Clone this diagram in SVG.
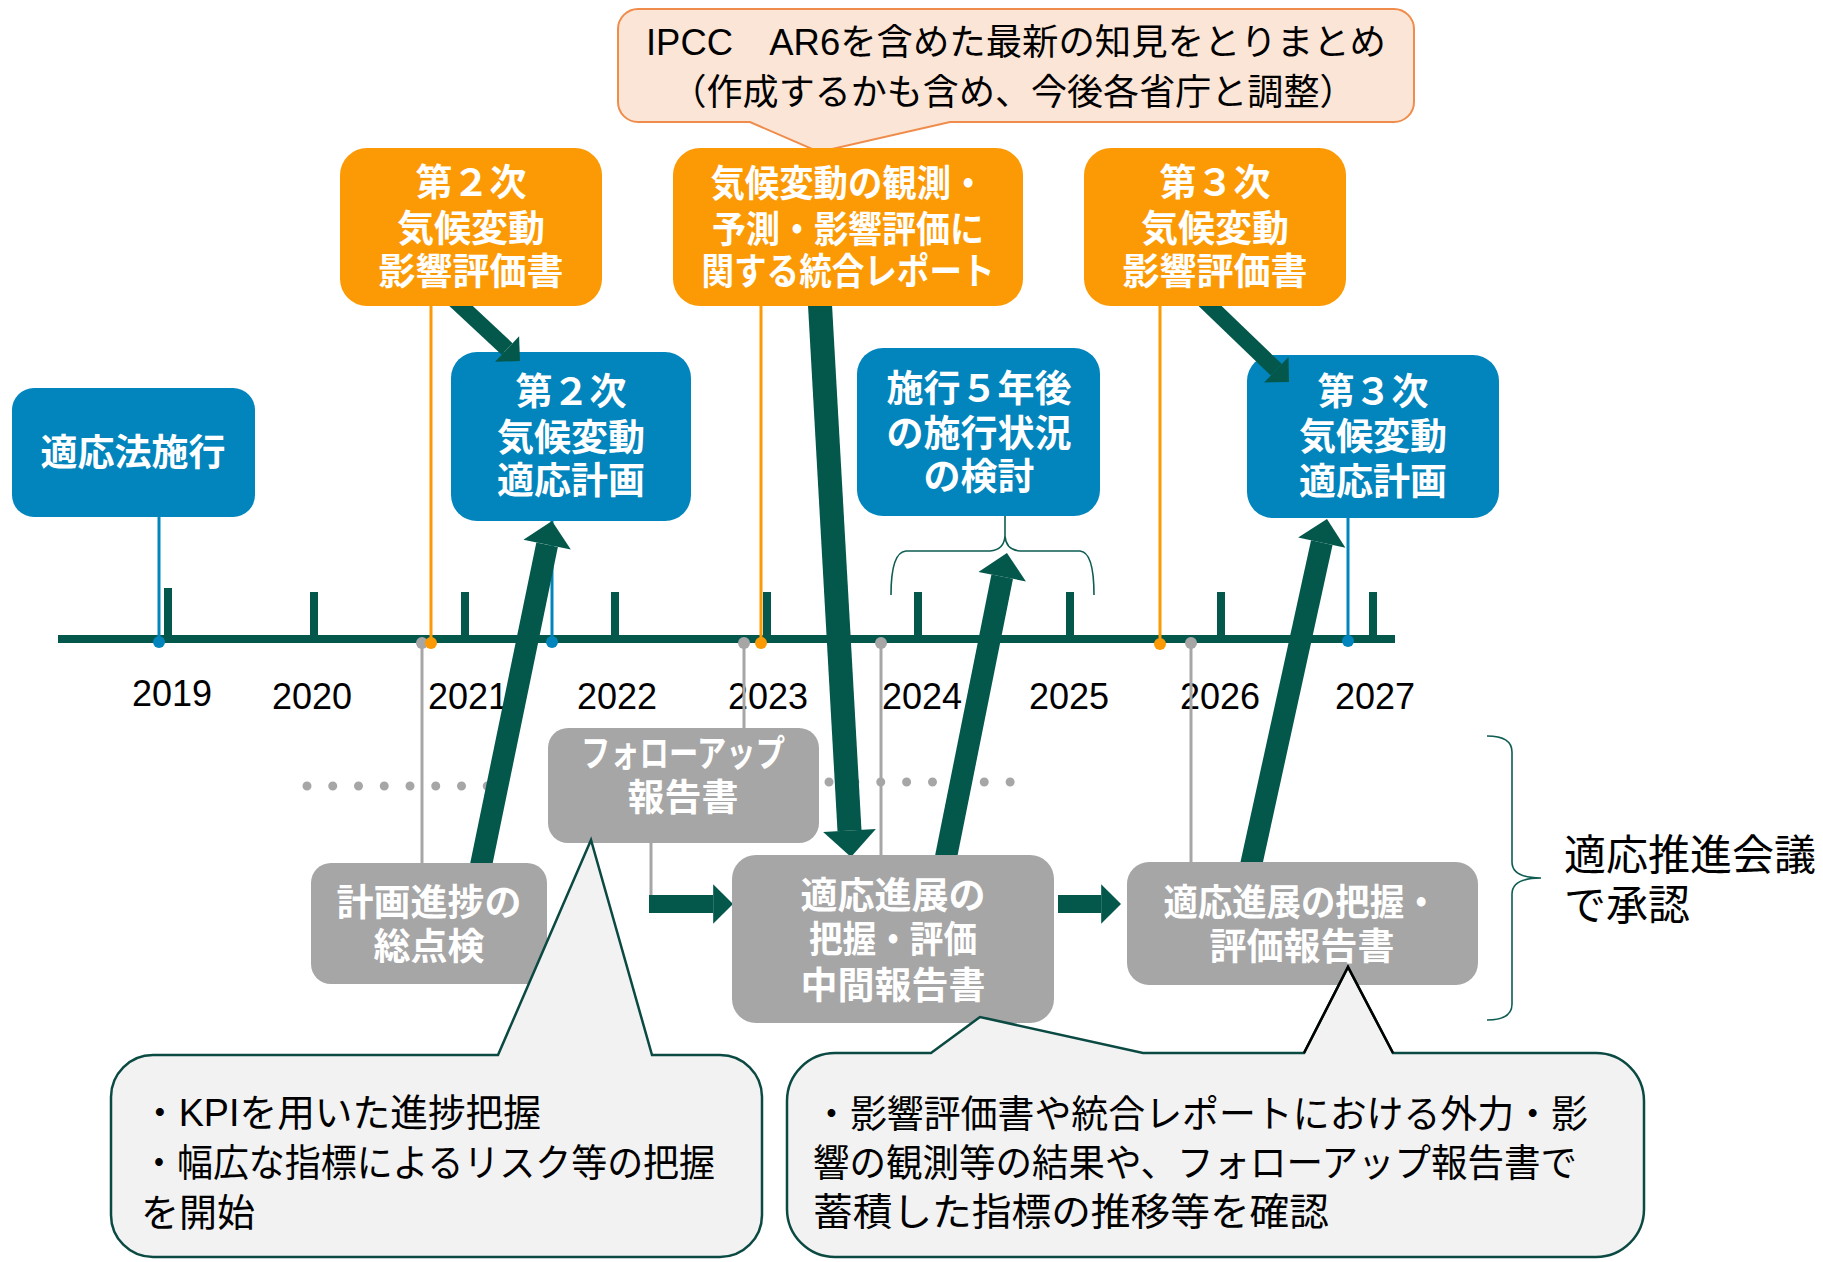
<svg xmlns="http://www.w3.org/2000/svg" width="1823" height="1262" viewBox="0 0 1823 1262">
<style>
.bt{font-family:"Liberation Sans","Noto Sans CJK JP",sans-serif;font-weight:700;fill:#fff;font-size:37px;text-anchor:middle}
.yr{font-family:"Liberation Sans",Arial,sans-serif;font-size:36px;fill:#000;text-anchor:middle}
.ct{font-family:"Liberation Sans","Noto Sans CJK JP",sans-serif;font-size:38px;fill:#000}
.blue{fill:#0284BC}
.orange{fill:#FC9A05}
.gray{fill:#A6A6A6}
.vl{stroke-width:3;fill:none}
.arr{stroke:#03584B;fill:none;marker-end:url(#ah)}
.brace{fill:none;stroke:#0E5C52;stroke-width:1.6}
.call{fill:#F2F2F2;stroke:#0B4A42;stroke-width:2.5;stroke-linejoin:miter}
.dots{stroke:#A6A6A6;stroke-width:9;stroke-linecap:round}
</style>
<defs>
<marker id="ah" viewBox="0 -1.1 1.1 2.2" refX="0" refY="0" markerWidth="1.1" markerHeight="2.2" markerUnits="strokeWidth" orient="auto" overflow="visible">
<path d="M0,-1.1 L1.1,0 L0,1.1 Z" fill="#03584B"/>
</marker>
</defs>
<rect width="1823" height="1262" fill="#fff"/>

<g id="timeline">
<line x1="58" y1="639" x2="1395" y2="639" stroke="#03584B" stroke-width="8"/>
<g stroke="#03584B" stroke-width="8">
<line x1="168" y1="588" x2="168" y2="639"/>
<line x1="314" y1="592" x2="314" y2="639"/>
<line x1="465" y1="592" x2="465" y2="639"/>
<line x1="615" y1="592" x2="615" y2="639"/>
<line x1="767" y1="592" x2="767" y2="639"/>
<line x1="918" y1="592" x2="918" y2="639"/>
<line x1="1070" y1="592" x2="1070" y2="639"/>
<line x1="1221" y1="592" x2="1221" y2="639"/>
<line x1="1373" y1="592" x2="1373" y2="639"/>
</g>
<text class="yr" x="172" y="706">2019</text>
<text class="yr" x="312" y="709">2020</text>
<text class="yr" x="468" y="709">2021</text>
<text class="yr" x="617" y="709">2022</text>
<text class="yr" x="768" y="709">2023</text>
<text class="yr" x="922" y="709">2024</text>
<text class="yr" x="1069" y="709">2025</text>
<text class="yr" x="1220" y="709">2026</text>
<text class="yr" x="1375" y="709">2027</text>
<line class="dots" x1="307" y1="786" x2="513" y2="786" stroke-dasharray="0 25.75"/>
<line class="dots" x1="829" y1="782" x2="1036" y2="782" stroke-dasharray="0 25.875"/>
</g>

<g id="peach-note">
<path d="M638,9 L1394,9 A20,20 0 0 1 1414,29 L1414,102 A20,20 0 0 1 1394,122 L950,122 L819,152 L750,122 L638,122 A20,20 0 0 1 618,102 L618,29 A20,20 0 0 1 638,9 Z" fill="#FBE5D6" stroke="#F08C4B" stroke-width="2"/>
<text class="ct" text-anchor="middle" style="font-size:36px"><tspan x="1016" y="55" textLength="740" lengthAdjust="spacingAndGlyphs">IPCC　AR6を含めた最新の知見をとりまとめ</tspan><tspan x="1013" y="105" textLength="685" lengthAdjust="spacingAndGlyphs">（作成するかも含め、今後各省庁と調整）</tspan></text>
</g>

<g id="node-tekiouhou">
<rect class="blue" x="12" y="388" width="243" height="129" rx="22"/>
<text class="bt" x="133" y="466">適応法施行</text>
</g>
<g id="node-plan2">
<rect class="blue" x="451" y="352" width="240" height="169" rx="26"/>
<text class="bt"><tspan x="571" y="405">第２次</tspan><tspan x="571" y="451">気候変動</tspan><tspan x="571" y="494">適応計画</tspan></text>
</g>
<g id="node-5years">
<rect class="blue" x="857" y="348" width="243" height="168" rx="26"/>
<text class="bt"><tspan x="979" y="402">施行５年後</tspan><tspan x="979" y="447">の施行状況</tspan><tspan x="979" y="490">の検討</tspan></text>
</g>
<g id="node-plan3">
<rect class="blue" x="1247" y="355" width="252" height="163" rx="26"/>
<text class="bt"><tspan x="1373" y="405">第３次</tspan><tspan x="1373" y="450">気候変動</tspan><tspan x="1373" y="495">適応計画</tspan></text>
</g>

<g id="connectors">
<line class="vl" stroke="#0284BC" x1="159" y1="517" x2="159" y2="642"/>
<line class="vl" stroke="#FC9A05" x1="431" y1="306" x2="431" y2="642"/>
<line class="vl" stroke="#A6A6A6" x1="422" y1="642" x2="422" y2="863"/>
<line class="vl" stroke="#0284BC" x1="552" y1="521" x2="552" y2="642"/>
<line class="vl" stroke="#FC9A05" x1="761" y1="306" x2="761" y2="642"/>
<line class="vl" stroke="#A6A6A6" x1="744" y1="642" x2="744" y2="728"/>
<line class="vl" stroke="#A6A6A6" x1="881" y1="642" x2="881" y2="855"/>
<line class="vl" stroke="#FC9A05" x1="1160" y1="306" x2="1160" y2="642"/>
<line class="vl" stroke="#A6A6A6" x1="1191" y1="642" x2="1191" y2="862"/>
<line class="vl" stroke="#0284BC" x1="1348" y1="518" x2="1348" y2="642"/>
<line class="vl" stroke="#A6A6A6" x1="651" y1="843" x2="651" y2="904"/>
<circle cx="159" cy="642" r="6" fill="#0284BC"/>
<circle cx="422" cy="643" r="6" fill="#A6A6A6"/>
<circle cx="431" cy="643" r="6" fill="#FC9A05"/>
<circle cx="552" cy="642" r="6" fill="#0284BC"/>
<circle cx="744" cy="643" r="6" fill="#A6A6A6"/>
<circle cx="761" cy="643" r="6" fill="#FC9A05"/>
<circle cx="881" cy="643" r="6" fill="#A6A6A6"/>
<circle cx="1160" cy="644" r="6" fill="#FC9A05"/>
<circle cx="1191" cy="643" r="6" fill="#A6A6A6"/>
<circle cx="1348" cy="641" r="6" fill="#0284BC"/>
<line class="arr" stroke-width="16" x1="453.7" y1="299.2" x2="507.1" y2="349"/>
<line class="arr" stroke-width="24" x1="819.5" y1="296" x2="849.5" y2="830.6"/>
<line class="arr" stroke-width="22" x1="479" y1="875" x2="547.1" y2="544.7"/>
<line class="arr" stroke-width="22" x1="944" y1="867" x2="1002.2" y2="576.7"/>
<line class="arr" stroke-width="22" x1="1249.1" y1="874" x2="1321.8" y2="542.6"/>
<line class="arr" stroke-width="16" x1="1202.8" y1="299.1" x2="1276.3" y2="369.8"/>
<line class="arr" stroke-width="18" x1="649" y1="904" x2="713.2" y2="904"/>
<line class="arr" stroke-width="18" x1="1058" y1="904" x2="1101.2" y2="904"/>
</g>

<g id="brace-5years">
<path class="brace" d="M891,595 Q891,552 906,551 L990,551 Q1004,550 1005,536 L1005,516 M1005,536 Q1006,550 1020,551 L1080,551 Q1094,552 1094,595"/>
</g>

<g id="node-assess2">
<rect class="orange" x="340" y="148" width="262" height="158" rx="27"/>
<text class="bt"><tspan x="471" y="196">第２次</tspan><tspan x="471" y="242">気候変動</tspan><tspan x="471" y="285">影響評価書</tspan></text>
</g>
<g id="node-synthesis">
<rect class="orange" x="673" y="148" width="350" height="158" rx="27"/>
<text class="bt"><tspan x="848" y="197" textLength="275" lengthAdjust="spacingAndGlyphs">気候変動の観測・</tspan><tspan x="848" y="243" textLength="272" lengthAdjust="spacingAndGlyphs">予測・影響評価に</tspan><tspan x="848" y="285" textLength="293" lengthAdjust="spacingAndGlyphs">関する統合レポート</tspan></text>
</g>
<g id="node-assess3">
<rect class="orange" x="1084" y="148" width="262" height="158" rx="27"/>
<text class="bt"><tspan x="1215" y="196">第３次</tspan><tspan x="1215" y="242">気候変動</tspan><tspan x="1215" y="285">影響評価書</tspan></text>
</g>

<g id="node-review">
<rect class="gray" x="311" y="863" width="236" height="121" rx="20"/>
<text class="bt"><tspan x="429" y="916">計画進捗の</tspan><tspan x="429" y="960">総点検</tspan></text>
</g>
<g id="node-followup">
<rect class="gray" x="548" y="728" width="271" height="115" rx="20"/>
<text class="bt"><tspan x="683" y="767" textLength="204" lengthAdjust="spacingAndGlyphs">フォローアップ</tspan><tspan x="683" y="811">報告書</tspan></text>
</g>
<g id="node-interim">
<rect class="gray" x="732" y="855" width="322" height="168" rx="24"/>
<text class="bt"><tspan x="893" y="909">適応進展の</tspan><tspan x="893" y="953" textLength="168" lengthAdjust="spacingAndGlyphs">把握・評価</tspan><tspan x="893" y="999">中間報告書</tspan></text>
</g>
<g id="node-evaluation">
<rect class="gray" x="1127" y="862" width="351" height="123" rx="22"/>
<text class="bt"><tspan x="1301" y="916" textLength="275" lengthAdjust="spacingAndGlyphs">適応進展の把握・</tspan><tspan x="1302" y="960">評価報告書</tspan></text>
</g>

<g id="brace-council">
<path class="brace" d="M1487,736 Q1512,736 1512,752 L1512,862 Q1512,878 1541,878 Q1512,878 1512,894 L1512,1004 Q1512,1020 1487,1020"/>
<text class="ct" style="font-size:42px"><tspan x="1564" y="870">適応推進会議</tspan><tspan x="1564" y="920">で承認</tspan></text>
</g>

<g id="callout-left">
<path class="call" d="M153,1055 L498,1055 L591,840 L652,1055 L720,1055 A42,42 0 0 1 762,1097 L762,1215 A42,42 0 0 1 720,1257 L153,1257 A42,42 0 0 1 111,1215 L111,1097 A42,42 0 0 1 153,1055 Z"/>
<text class="ct"><tspan x="141" y="1126" textLength="400" lengthAdjust="spacingAndGlyphs">・KPIを用いた進捗把握</tspan><tspan x="141" y="1176" textLength="574" lengthAdjust="spacingAndGlyphs">・幅広な指標によるリスク等の把握</tspan><tspan x="141" y="1226">を開始</tspan></text>
</g>
<g id="callout-right">
<path class="call" d="M835,1053 L931,1053 L980,1017 L1143,1053 L1304,1053 L1348,967 L1393,1053 L1596,1053 A48,48 0 0 1 1644,1101 L1644,1209 A48,48 0 0 1 1596,1257 L835,1257 A48,48 0 0 1 787,1209 L787,1101 A48,48 0 0 1 835,1053 Z"/>
<polyline points="1304,1053 1348,967 1393,1053" fill="none" stroke="#000" stroke-width="2.5"/>
<text class="ct"><tspan x="813" y="1127" textLength="775" lengthAdjust="spacingAndGlyphs">・影響評価書や統合レポートにおける外力・影</tspan><tspan x="813" y="1176" textLength="764" lengthAdjust="spacingAndGlyphs">響の観測等の結果や、フォローアップ報告書で</tspan><tspan x="813" y="1225" textLength="516" lengthAdjust="spacingAndGlyphs">蓄積した指標の推移等を確認</tspan></text>
</g>
</svg>
